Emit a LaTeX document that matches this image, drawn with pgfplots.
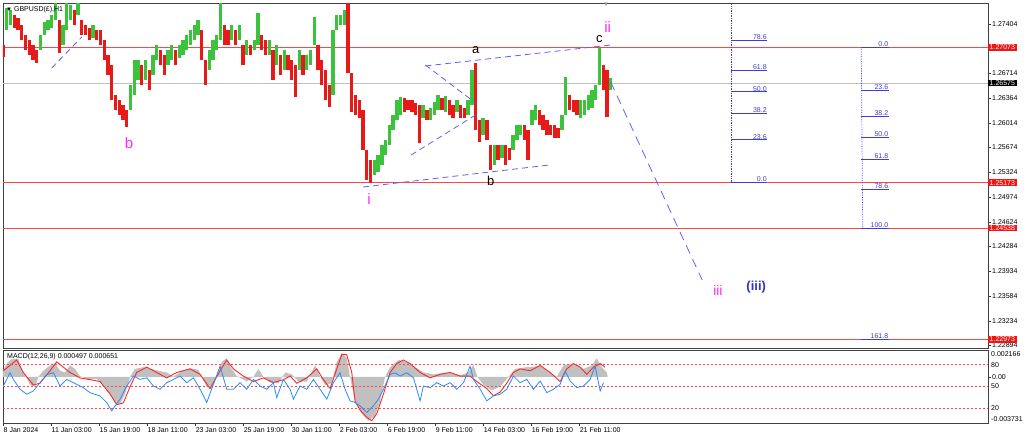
\documentclass[border=0pt]{standalone}
\usepackage{fontspec}
\setmainfont{Liberation Sans}
\usepackage{pgfplots}
\usepackage{pgfplotstable}
\pgfplotsset{compat=1.18}
\definecolor{cgreen}{RGB}{60,195,60}
\definecolor{cred}{RGB}{232,25,25}
\definecolor{hred}{RGB}{255,70,70}
\definecolor{fibblue}{RGB}{60,60,225}
\definecolor{wblue}{RGB}{95,95,255}
\definecolor{mag}{RGB}{255,40,255}
\definecolor{navyl}{RGB}{50,50,200}
\definecolor{macdgray}{RGB}{192,192,192}
\definecolor{sigred}{RGB}{250,40,40}
\definecolor{rsiblue}{RGB}{40,140,255}
\definecolor{boxred}{RGB}{245,20,20}

\pgfplotstableread{
b lo hi d
0 1.26940 1.27109 0
5 1.27320 1.27629 1
10 1.27390 1.27601 1
15 1.27348 1.27530 0
20 1.27320 1.27488 0
25 1.27179 1.27390 0
30 1.27039 1.27249 0
35 1.26968 1.27179 0
40 1.26898 1.27109 0
45 1.26856 1.27039 0
50 1.27039 1.27249 1
55 1.27249 1.27432 1
60 1.27320 1.27460 1
65 1.27348 1.27530 1
70 1.27460 1.27699 1
75 1.26996 1.27460 0
80 1.27109 1.27390 1
85 1.27320 1.27699 1
90 1.27460 1.27671 1
95 1.27390 1.27601 0
100 1.27530 1.27699 1
105 1.27249 1.27460 0
110 1.27249 1.27390 0
115 1.27179 1.27348 0
120 1.27207 1.27390 1
125 1.27179 1.27320 0
130 1.27109 1.27320 0
135 1.26898 1.27179 0
140 1.26687 1.26968 0
145 1.26336 1.26828 0
150 1.26196 1.26406 0
155 1.26125 1.26336 0
160 1.26055 1.26266 0
165 1.25957 1.26196 0
170 1.26196 1.26547 1
175 1.26406 1.26898 1
180 1.26617 1.26898 1
185 1.26547 1.26828 0
190 1.26617 1.26898 1
195 1.26477 1.26758 0
200 1.26687 1.26968 1
205 1.26898 1.27109 1
210 1.26828 1.27039 0
215 1.26687 1.26968 0
220 1.26828 1.27039 1
225 1.26898 1.27109 1
230 1.26828 1.27039 0
235 1.26926 1.27109 1
240 1.26968 1.27179 1
245 1.27039 1.27249 1
250 1.27109 1.27320 1
255 1.27179 1.27390 1
260 1.27249 1.27460 1
265 1.26898 1.27320 0
270 1.26547 1.26898 0
275 1.26758 1.27039 1
280 1.26898 1.27179 1
285 1.27039 1.27249 1
290 1.27179 1.27699 1
295 1.27109 1.27390 0
300 1.27109 1.27320 0
305 1.27179 1.27390 1
310 1.27109 1.27320 0
315 1.27179 1.27390 1
320 1.26828 1.27109 0
325 1.26968 1.27179 1
330 1.26968 1.27109 0
335 1.27039 1.27179 1
340 1.27109 1.27558 1
345 1.27039 1.27249 0
350 1.26968 1.27179 0
355 1.26968 1.27179 1
360 1.26617 1.27039 0
365 1.26828 1.27109 1
370 1.26687 1.26968 0
375 1.26758 1.27039 1
380 1.26758 1.26968 0
385 1.26617 1.26898 0
390 1.26378 1.26828 0
395 1.26758 1.27039 1
400 1.26687 1.26968 0
405 1.26758 1.26968 1
410 1.26828 1.27039 1
415 1.27109 1.27502 1
420 1.26758 1.27109 0
425 1.26547 1.26898 0
430 1.26336 1.26758 0
435 1.26238 1.26547 0
440 1.26406 1.27320 1
445 1.27320 1.27530 1
450 1.27390 1.27530 1
455 1.27390 1.27601 1
460 1.26715 1.27699 0
465 1.26167 1.26715 0
470 1.26125 1.26406 0
475 1.26083 1.26336 0
480 1.25634 1.26196 0
485 1.25212 1.25634 0
490 1.25170 1.25493 0
495 1.25282 1.25493 1
500 1.25324 1.25563 1
505 1.25423 1.25704 1
510 1.25563 1.25774 1
515 1.25704 1.25985 1
520 1.25915 1.26125 1
525 1.26055 1.26336 1
530 1.26125 1.26378 1
535 1.26167 1.26364 0
540 1.26196 1.26336 0
545 1.26167 1.26336 0
550 1.26125 1.26294 0
555 1.25732 1.26266 0
560 1.26083 1.26266 1
565 1.26055 1.26196 0
570 1.26055 1.26224 1
575 1.26125 1.26308 1
580 1.26196 1.26406 1
585 1.26196 1.26364 0
590 1.26167 1.26392 1
595 1.26125 1.26336 0
600 1.26083 1.26266 0
605 1.26167 1.26336 1
610 1.26083 1.26266 0
615 1.26083 1.26224 0
620 1.26125 1.26336 1
625 1.26266 1.26758 1
630 1.25915 1.26856 0
635 1.25746 1.26055 0
640 1.25844 1.26083 1
645 1.25774 1.26055 0
650 1.25353 1.25704 0
655 1.25423 1.25704 1
660 1.25493 1.25704 0
665 1.25521 1.25704 1
670 1.25423 1.25704 0
675 1.25493 1.25662 0
680 1.25634 1.25844 1
685 1.25774 1.25985 1
690 1.25844 1.25985 1
695 1.25774 1.25985 0
700 1.25493 1.25915 0
705 1.25985 1.26196 1
710 1.26055 1.26266 1
715 1.25985 1.26196 0
720 1.25915 1.26125 0
725 1.25844 1.26055 0
730 1.25844 1.25985 0
735 1.25802 1.25985 0
740 1.25802 1.25943 0
745 1.25915 1.26125 1
750 1.26125 1.26659 1
755 1.26196 1.26406 0
760 1.26167 1.26336 0
765 1.26125 1.26336 0
770 1.26083 1.26336 1
775 1.26125 1.26336 1
780 1.26196 1.26406 1
785 1.26224 1.26477 1
790 1.26336 1.26547 1
795 1.26547 1.27067 1
800 1.26477 1.26828 0
805 1.26097 1.26758 0
810 1.26477 1.26645 1
}\candles

\pgfplotstableread{
b v
0 0.00049
4.9 0.00107
11.6 0.00145
20.4 0.00145
24.9 0.00064
30.7 0
36 -0.00066
42.7 -0.00081
47.1 0
53.8 0.00049
62.7 0.00092
69.3 0.00107
76 0.00049
82.7 0.00035
89.3 0.00092
96 0.00064
102.7 0.00006
113.8 -0.00023
124.9 -0.00017
133.8 -0.00066
142.7 -0.00139
149.3 -0.00211
156 -0.0022
162.7 -0.00139
169.3 0
176 0.00064
187.1 0.00078
198.2 0.00064
207.1 0.00049
218.2 0.00035
227.1 0
238.2 0.00049
249.3 0.00069
260.4 0.00058
264.9 0
271.6 -0.00081
278.2 -0.00095
284.9 0
291.6 0.00121
298.2 0.0015
304.9 0.00064
311.6 0.00006
324.9 -0.00038
333.8 0
340.4 0.00064
347.1 0
356 -0.00046
367.1 -0.00052
376 0.00035
384.9 0.0002
393.8 -0.00038
404.9 -0.00038
416 0.00092
422.7 0
429.3 -0.00066
438.2 -0.00052
444.9 0.00121
451.6 0.00194
458.2 0.0015
462.6 0
469.3 -0.00197
478.2 -0.00298
487.1 -0.00355
496 -0.00312
502.6 -0.00197
509.3 0
516 0.00078
527.1 0.00136
538.2 0.00121
549.3 0.00078
560.4 0.00035
573.8 0.0002
591.5 0.00035
609.3 0.00012
620.4 0.00035
627.1 0.00098
632.4 0
640.4 -0.00066
651.5 -0.0011
662.6 -0.00081
673.7 0
682.6 0.00064
698.2 0.00078
716 0.00087
729.3 0.00035
738.2 0
747.1 0.00092
760.4 0.00107
773.8 0.00064
784.9 0.00092
791.5 0.0015
798.2 0.00078
805 0.00035
806 0
}\hist

\pgfplotstableread{
b v
0.4 0.00049
9.3 0.00092
18.2 0.00136
27.1 0.00035
40.4 -0.00066
49.3 -0.00052
62.7 0.00049
71.6 0.00121
80.4 0.00078
89.3 0.00035
102.7 -0.00009
116 -0.00023
129.3 -0.00038
142.7 -0.00139
151.6 -0.00225
160.4 -0.00211
169.3 -0.00081
178.2 0.00035
191.6 0.00078
204.9 0.00035
218.2 -0.00009
231.6 0.00035
249.3 0.00064
262.7 0.0002
276 -0.00095
289.3 0.00049
298.2 0.00136
307.1 0.00064
320.4 0.00006
333.8 -0.00038
347.1 -0.00009
360.4 -0.00046
373.8 -0.00023
382.7 0.00006
391.6 -0.00052
404.9 -0.00009
418.2 0.00064
427.1 -0.00023
436 -0.00095
444.9 0.00064
451.6 0.00179
458.2 0.00179
464.9 0.00035
469.3 -0.00197
476 -0.00269
484.9 -0.00327
491.5 -0.00355
498.2 -0.00298
507.1 -0.00139
516 0.00035
524.9 0.00107
533.8 0.00136
542.6 0.00107
556 0.00035
569.3 -0.00009
582.6 0.0002
596 0.00035
609.3 0.00006
622.6 0.00006
631.5 -0.00038
644.9 -0.00095
653.7 -0.00153
662.6 -0.00124
671.5 -0.00052
680.4 0.00035
689.3 0.00064
702.6 0.00049
716 0.00092
729.3 0.00035
742.6 -0.00038
751.5 0.00064
760.4 0.00107
769.3 0.00078
778.2 0.0002
787.1 0.00078
796 0.00107
802.6 0.00078
}\signal

\pgfplotstableread{
b v
0.4 50.7
9.3 68.8
13.8 59.7
22.7 46.2
31.6 39.4
40.4 43.9
49.3 55.2
58.2 66.5
67.1 68.8
76 50.7
84.9 59.7
93.8 55.2
107.1 48.4
116 41.6
129.3 37.1
138.2 28.1
144.9 16.7
156 32.6
164.9 50.7
173.8 64.3
182.7 59.7
191.6 62
200.4 50.7
209.3 46.2
218.2 55.2
227.1 59.7
236 64.3
244.9 55.2
253.8 62
262.7 46.2
271.6 28.1
280.4 52.9
289.3 77.8
298.2 46.2
307.1 46.2
316 55.2
324.9 46.2
333.8 59.7
342.7 50.7
351.6 46.2
360.4 55.2
364.9 34.8
373.8 59.7
382.7 46.2
387.1 32.6
396 50.7
404.9 46.2
413.8 59.7
422.7 46.2
431.6 32.6
440.4 55.2
449.3 68.8
456 46.2
462.6 30.3
469.3 28.1
476 23.5
484.9 14.5
493.7 23.5
500.4 32.6
507.1 46.2
516 66.5
522.6 68.8
529.3 64.3
538.2 68.8
547.1 62
556 30.3
560.4 50.7
569.3 48.4
578.2 55.2
587.1 50.7
596 55.2
604.9 46.2
613.8 55.2
622.6 77.8
627.1 59.7
636 46.2
644.9 30.3
653.7 37.1
662.6 39.4
671.5 46.2
680.4 64.3
689.3 55.2
698.2 59.7
707.1 46.2
716 57.5
724.9 41.6
733.8 46.2
742.6 52.9
749.3 71
756 57.5
764.9 48.4
773.8 50.7
782.6 59.7
789.3 77.8
796 43.9
800.4 55.2
}\osc

\newcommand{\sm}{\fontsize{7}{8}\selectfont}

\begin{document}
\begin{tikzpicture}[x=1pt,y=1pt]
\path (0pt,0pt) rectangle (1024pt,441pt);
% ---------------- main price panel ----------------
\begin{axis}[
  at={(3pt,93pt)}, anchor=south west, scale only axis, width=985pt, height=345pt,
  xmin=0, xmax=1313, ymin=1.22852, ymax=1.27699,
  clip mode=individual,
  axis line style={black!75, line width=0.8pt},
  xtick=\empty,
  ytick={1.27404,1.26714,1.26364,1.26014,1.25674,1.25324,1.24974,1.24624,1.24284,1.23934,1.23584,1.23234,1.22894},
  yticklabels={1.27404,1.26714,1.26364,1.26014,1.25674,1.25324,1.24974,1.24624,1.24284,1.23934,1.23584,1.23234,1.22894},
  ytick pos=right, yticklabel pos=right, tick align=outside, major tick length=3pt,
  yticklabel style={anchor=west, inner sep=1pt, font=\sm},
  tick style={black!80, line width=0.6pt},
]
% horizontal levels
\addplot[black!25, line width=0.8pt] coordinates {(0,1.26575) (1313,1.26575)};
\addplot[hred, line width=0.9pt] coordinates {(0,1.27073) (1313,1.27073)};
\addplot[hred, line width=0.9pt] coordinates {(0,1.25173) (1313,1.25173)};
\addplot[hred, line width=0.9pt] coordinates {(0,1.24538) (1313,1.24538)};
\addplot[hred, line width=0.9pt] coordinates {(0,1.22973) (1313,1.22973)};
% candles
\addplot[draw=none, mark=none, restrict expr to domain={\thisrow{d}}{-0.5:0.5},
  error bars/.cd, y dir=plus, y explicit, error mark=none,
  error bar style={draw=cred, line width=3.3pt}]
  table[x=b, y=lo, y error expr={\thisrow{hi}-\thisrow{lo}}] {\candles};
\addplot[draw=none, mark=none, restrict expr to domain={\thisrow{d}}{0.5:1.5},
  error bars/.cd, y dir=plus, y explicit, error mark=none,
  error bar style={draw=cgreen, line width=3.3pt}]
  table[x=b, y=lo, y error expr={\thisrow{hi}-\thisrow{lo}}] {\candles};
% wave lines
\addplot[wblue, line width=0.8pt, dash pattern=on 6pt off 4pt] coordinates {(65,1.26786) (105,1.27221)};
\addplot[wblue, line width=0.8pt, dash pattern=on 6pt off 4pt] coordinates {(480,1.25114) (728,1.25423)};
\addplot[wblue, line width=0.8pt, dash pattern=on 6pt off 4pt] coordinates {(563,1.26814) (810,1.27109)};
\addplot[wblue, line width=0.8pt, dash pattern=on 6pt off 4pt] coordinates {(563,1.26828) (630,1.26294)};
\addplot[wblue, line width=0.8pt, dash pattern=on 6pt off 4pt] coordinates {(544,1.25563) (632,1.26139)};
\addplot[wblue, line width=0.8pt, dash pattern=on 9pt off 6pt] coordinates {(810,1.26589) (932,1.23807)};
% fibonacci set 1
\addplot[fibblue, line width=0.7pt, densely dotted] coordinates {(971,1.2775) (971,1.25173)};
\addplot[fibblue, line width=0.8pt] coordinates {(971,1.25173) (1019,1.25173)};
\addplot[fibblue, line width=0.8pt] coordinates {(971,1.25776) (1019,1.25776)};
\addplot[fibblue, line width=0.8pt] coordinates {(971,1.26149) (1019,1.26149)};
\addplot[fibblue, line width=0.8pt] coordinates {(971,1.26450) (1019,1.26450)};
\addplot[fibblue, line width=0.8pt] coordinates {(971,1.26751) (1019,1.26751)};
\addplot[fibblue, line width=0.8pt] coordinates {(971,1.27180) (1019,1.27180)};
% fibonacci set 2
\addplot[fibblue, line width=0.7pt, densely dotted] coordinates {(1144,1.27073) (1146,1.24538)};
\addplot[fibblue, line width=0.8pt] coordinates {(1144,1.27073) (1181,1.27073)};
\addplot[fibblue, line width=0.8pt] coordinates {(1144,1.26475) (1181,1.26475)};
\addplot[fibblue, line width=0.8pt] coordinates {(1144,1.26105) (1181,1.26105)};
\addplot[fibblue, line width=0.8pt] coordinates {(1144,1.25805) (1181,1.25805)};
\addplot[fibblue, line width=0.8pt] coordinates {(1144,1.25506) (1181,1.25506)};
\addplot[fibblue, line width=0.8pt] coordinates {(1144,1.25080) (1181,1.25080)};
\addplot[fibblue, line width=0.8pt] coordinates {(1144,1.24538) (1181,1.24538)};
\addplot[fibblue, line width=0.8pt] coordinates {(1144,1.22971) (1181,1.22971)};
% fib labels
\begin{scope}[every node/.style={anchor=south east, inner sep=0.6pt, text=fibblue, font=\sm}]
\node at (axis cs:1019,1.27180) {78.6};
\node at (axis cs:1019,1.26751) {61.8};
\node at (axis cs:1019,1.26450) {50.0};
\node at (axis cs:1019,1.26149) {38.2};
\node at (axis cs:1019,1.25776) {23.6};
\node at (axis cs:1019,1.25173) {0.0};
\node at (axis cs:1181,1.27073) {0.0};
\node at (axis cs:1181,1.26475) {23.6};
\node at (axis cs:1181,1.26105) {38.2};
\node at (axis cs:1181,1.25805) {50.0};
\node at (axis cs:1181,1.25506) {61.8};
\node at (axis cs:1181,1.25080) {78.6};
\node at (axis cs:1181,1.24538) {100.0};
\node at (axis cs:1181,1.22971) {161.8};
\end{scope}
% wave labels
\node[text=mag, font=\fontsize{15}{16}\selectfont] at (axis cs:168,1.25732) {b};
\node[text=mag, font=\fontsize{15}{16}\selectfont] at (axis cs:488,1.24945) {i};
\node[text=mag, font=\fontsize{15}{16}\selectfont] at (axis cs:806,1.27362) {ii};
\node[text=mag, font=\fontsize{14}{15}\selectfont] at (axis cs:953,1.23667) {iii};
\node[text=navyl, font=\fontsize{13}{14}\selectfont\bfseries] at (axis cs:1004,1.23709) {(iii)};
\node[text=black, font=\fontsize{13}{14}\selectfont] at (axis cs:630,1.27039) {a};
\node[text=black, font=\fontsize{13}{14}\selectfont] at (axis cs:650,1.25198) {b};
\node[text=black, font=\fontsize{13}{14}\selectfont] at (axis cs:795,1.27193) {c};
% title and shift marker
\node[anchor=north west, inner sep=1pt, font=\sm] at (rel axis cs:0,1) [xshift=2pt, yshift=-2pt] {{\fontsize{6}{7}\selectfont▼}\ GBPUSD(£),H1};
\node[anchor=north, inner sep=0pt, text=black!45, font=\fontsize{6}{7}\selectfont] at (axis cs:804,1.27699) {▼};
% price boxes
\begin{scope}[every node/.style={anchor=west, inner xsep=1.5pt, inner ysep=1pt, text=white, font=\sm}]
\node[fill=boxred] at (axis cs:1313,1.27073) {1.27073};
\node[fill=black] at (axis cs:1313,1.26575) {1.26575};
\node[fill=boxred] at (axis cs:1313,1.25173) {1.25173};
\node[fill=boxred] at (axis cs:1313,1.24538) {1.24538};
\node[fill=boxred] at (axis cs:1313,1.22973) {1.22973};
\end{scope}
\end{axis}
% ---------------- MACD panel ----------------
\begin{axis}[
  at={(3pt,18pt)}, anchor=south west, scale only axis, width=985pt, height=73pt,
  xmin=0, xmax=1313, ymin=-0.003731, ymax=0.002166,
  clip mode=individual,
  axis line style={black!75, line width=0.8pt},
  xtick={0,64,128,192,256,320,384,448,512,576,640,704,768},
  xticklabels={8 Jan 2024,11 Jan 03:00,15 Jan 19:00,18 Jan 11:00,23 Jan 03:00,25 Jan 19:00,30 Jan 11:00,2 Feb 03:00,6 Feb 19:00,9 Feb 11:00,14 Feb 03:00,16 Feb 19:00,21 Feb 11:00},
  xtick pos=bottom, xticklabel pos=bottom,
  xticklabel style={anchor=north west, inner sep=1pt, xshift=-0.5pt, font=\sm},
  ytick={0}, yticklabels={0.00}, ytick pos=right, yticklabel pos=right,
  yticklabel style={anchor=west, inner sep=1pt, font=\sm},
  tick align=outside, major tick length=3pt,
  tick style={black!80, line width=0.6pt},
  scaled y ticks=false,
]
\addplot[fill=macdgray, draw=none] table[x=b, y=v] {\hist} \closedcycle;
\addplot[sigred, line width=0.9pt] table[x=b, y=v] {\signal};
\node[anchor=north west, inner sep=1pt, font=\sm] at (rel axis cs:0,1) [xshift=3pt, yshift=-2pt] {MACD(12,26,9) 0.000497 0.000651};
\node[anchor=north west, inner sep=1pt, font=\sm] at (rel axis cs:1,1) [xshift=2pt, yshift=-0.5pt] {0.002166};
\node[anchor=south west, inner sep=1pt, font=\sm] at (rel axis cs:1,0) [xshift=2pt, yshift=0pt] {-0.003731};
\end{axis}
\begin{axis}[
  at={(3pt,18pt)}, anchor=south west, scale only axis, width=985pt, height=73pt,
  xmin=0, xmax=1313, ymin=0, ymax=100, hide axis, clip mode=individual,
]
\addplot[hred, line width=0.7pt, dash pattern=on 2pt off 2pt] coordinates {(0,80) (1313,80)};
\addplot[hred, line width=0.7pt, dash pattern=on 2pt off 2pt] coordinates {(0,50) (1313,50)};
\addplot[hred, line width=0.7pt, dash pattern=on 2pt off 2pt] coordinates {(0,20) (1313,20)};
\addplot[rsiblue, line width=0.8pt] table[x=b, y=v] {\osc};
\node[anchor=west, inner sep=1pt, font=\sm] at (axis cs:1313,80) [xshift=2pt] {80};
\node[anchor=west, inner sep=1pt, font=\sm] at (axis cs:1313,50) [xshift=2pt] {50};
\node[anchor=west, inner sep=1pt, font=\sm] at (axis cs:1313,20) [xshift=2pt] {20};
\end{axis}
\pgfresetboundingbox
\path[use as bounding box] (0pt,0pt) rectangle (1024pt,441pt);
\end{tikzpicture}
\end{document}
